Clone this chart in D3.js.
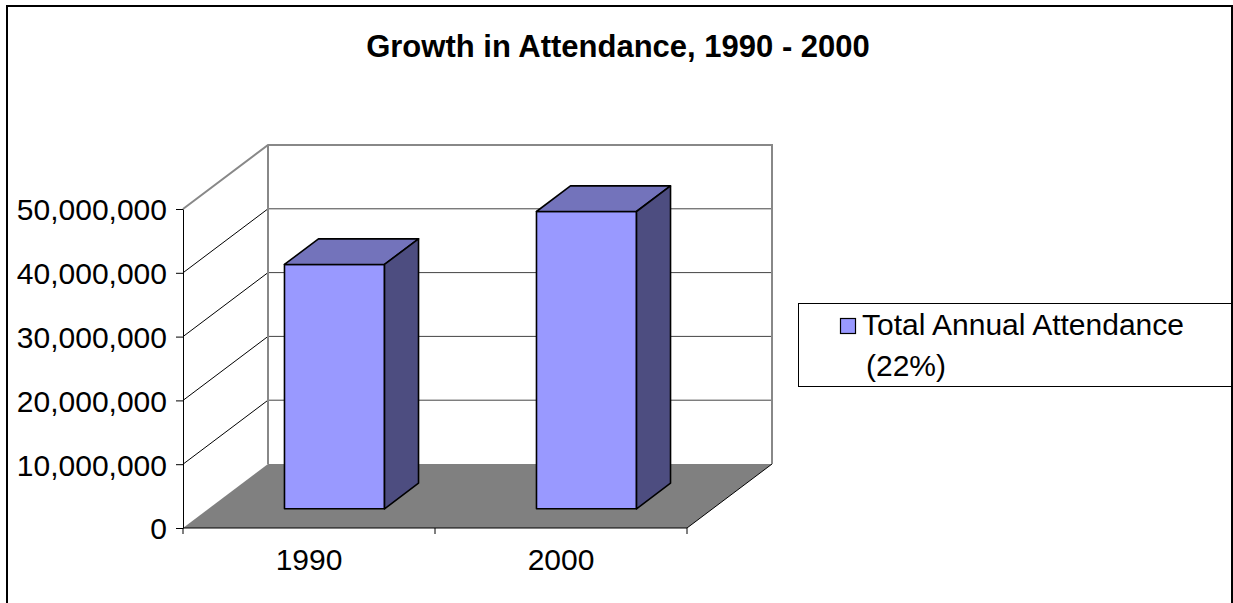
<!DOCTYPE html>
<html>
<head>
<meta charset="utf-8">
<script src="https://cdn.jsdelivr.net/npm/d3@7"></script>
<style>
  body { margin: 0; background: #fff; }
  svg { display: block; font-family: "Liberation Sans", Arial, sans-serif; }
</style>
</head>
<body>
<div id="chart"></div>
<script>
// data
const years = ['1990', '2000'];
const attendance = [38300000, 46600000];
const yTicks = [0, 10000000, 20000000, 30000000, 40000000, 50000000];
const legendLines = ['Total Annual Attendance', '(22%)'];
const chartTitle = 'Growth in Attendance, 1990 - 2000';

const W = 1233, H = 603;

// 3d projection: depth offset of the back wall
const DX = 85, DY = -64;
const barDepth = [0.3, 0.7];

const svg = d3.select('#chart').append('svg')
    .attr('width', W)
    .attr('height', H);

// scales (front plane)
const xScale = d3.scaleBand()
    .domain(years)
    .range([183, 687]);

const yScale = d3.scaleLinear()
    .domain([0, 50000000])
    .range([528, 209]);

const barW = xScale.bandwidth() * 0.397;
const proj = (x, y, f) => [x + f * DX, y + f * DY];
const poly = pts => 'M' + pts.map(p => p.join(',')).join('L') + 'Z';

// outer border
svg.append('rect')
    .attr('x', 7).attr('y', 6)
    .attr('width', 1225).attr('height', 640)
    .attr('fill', 'none')
    .attr('stroke', '#000')
    .attr('stroke-width', 2);

// title
svg.append('text')
    .attr('x', 618).attr('y', 57)
    .attr('text-anchor', 'middle')
    .attr('font-size', 31)
    .attr('font-weight', 'bold')
    .text(chartTitle);

const x0 = xScale.range()[0], x1 = xScale.range()[1];
const yTop = yScale(50000000), yBot = yScale(0);

// back wall gridlines
svg.append('g').selectAll('line')
    .data(yTicks.slice(1, -1))
    .join('line')
    .attr('x1', x0 + DX).attr('x2', x1 + DX)
    .attr('y1', d => yScale(d) + DY).attr('y2', d => yScale(d) + DY)
    .attr('stroke', '#444')
    .attr('stroke-width', 1);

// left wall gridlines
svg.append('g').selectAll('line')
    .data(yTicks.slice(1, -1))
    .join('line')
    .attr('x1', x0).attr('x2', x0 + DX)
    .attr('y1', d => yScale(d)).attr('y2', d => yScale(d) + DY)
    .attr('stroke', '#000')
    .attr('stroke-width', 1);

// floor
svg.append('path')
    .attr('d', poly([[x0, yBot], [x1, yBot], proj(x1, yBot, 1), proj(x0, yBot, 1)]))
    .attr('fill', '#808080');

svg.append('line')
    .attr('x1', x1).attr('y1', yBot)
    .attr('x2', x1 + DX).attr('y2', yBot + DY)
    .attr('stroke', '#000')
    .attr('stroke-width', 1);

// wall frame
svg.append('path')
    .attr('d', 'M' + [x0, yTop] + 'L' + proj(x0, yTop, 1) + 'L' + proj(x1, yTop, 1) +
        'L' + proj(x1, yBot, 1))
    .attr('fill', 'none')
    .attr('stroke', '#888')
    .attr('stroke-width', 2);
svg.append('line')
    .attr('x1', x0 + DX).attr('x2', x0 + DX)
    .attr('y1', yTop + DY).attr('y2', yBot + DY)
    .attr('stroke', '#888')
    .attr('stroke-width', 2);

// bars
const bars = svg.append('g').selectAll('g')
    .data(years.map((y, i) => ({ year: y, value: attendance[i] })))
    .join('g');

function faces(d) {
    const l = xScale(d.year) + xScale.bandwidth() / 2 - barW / 2;
    const r = l + barW;
    const t = yScale(d.value), b = yScale(0);
    const [f0, f1] = barDepth;
    return {
        front: [proj(l, t, f0), proj(r, t, f0), proj(r, b, f0), proj(l, b, f0)],
        top: [proj(l, t, f0), proj(r, t, f0), proj(r, t, f1), proj(l, t, f1)],
        side: [proj(r, t, f0), proj(r, t, f1), proj(r, b, f1), proj(r, b, f0)]
    };
}

[['front', '#9999FF'], ['top', '#7373BB'], ['side', '#4D4D80']].forEach(([k, c]) => {
    bars.append('path')
        .attr('d', d => poly(faces(d)[k]))
        .attr('fill', c)
        .attr('stroke', '#000')
        .attr('stroke-width', 1.6)
        .attr('stroke-linejoin', 'round');
});

// y axis
const yAxis = d3.axisLeft(yScale)
    .tickValues(yTicks)
    .tickFormat(d3.format(','))
    .tickSize(7)
    .tickSizeOuter(0)
    .tickPadding(9);

const yAxisGroup = svg.append('g')
    .attr('transform', 'translate(' + x0 + ',0)')
    .call(yAxis);
yAxisGroup.select('.domain').attr('stroke', '#000');
yAxisGroup.selectAll('text')
    .attr('font-size', 30)
    .attr('font-family', '"Liberation Sans", Arial, sans-serif')
    .attr('fill', '#000')
    .attr('dy', '0.36em');

// x axis
const xAxisGroup = svg.append('g');
xAxisGroup.append('line')
    .attr('x1', x0).attr('x2', x1)
    .attr('y1', yBot).attr('y2', yBot)
    .attr('stroke', '#000');
xAxisGroup.selectAll('.tick')
    .data(d3.range(years.length + 1))
    .join('line')
    .attr('class', 'tick')
    .attr('x1', i => x0 + i * xScale.step())
    .attr('x2', i => x0 + i * xScale.step())
    .attr('y1', yBot).attr('y2', yBot + 6)
    .attr('stroke', '#000');
xAxisGroup.selectAll('text')
    .data(years)
    .join('text')
    .attr('x', d => xScale(d) + xScale.bandwidth() / 2)
    .attr('y', 570)
    .attr('text-anchor', 'middle')
    .attr('font-size', 30)
    .text(d => d);

// legend
const legend = svg.append('g');
legend.append('rect')
    .attr('x', 798.5).attr('y', 303.5)
    .attr('width', 433).attr('height', 83)
    .attr('fill', '#fff')
    .attr('stroke', '#000')
    .attr('stroke-width', 1);
legend.append('rect')
    .attr('x', 840.5).attr('y', 318.5)
    .attr('width', 15).attr('height', 15)
    .attr('fill', '#9999FF')
    .attr('stroke', '#000')
    .attr('stroke-width', 1.2);
legend.selectAll('.lbl')
    .data(legendLines)
    .join('text')
    .attr('class', 'lbl')
    .attr('x', (d, i) => i ? 866 : 862)
    .attr('y', (d, i) => 335 + i * 41)
    .attr('font-size', 30)
    .text(d => d);
</script>
</body>
</html>
